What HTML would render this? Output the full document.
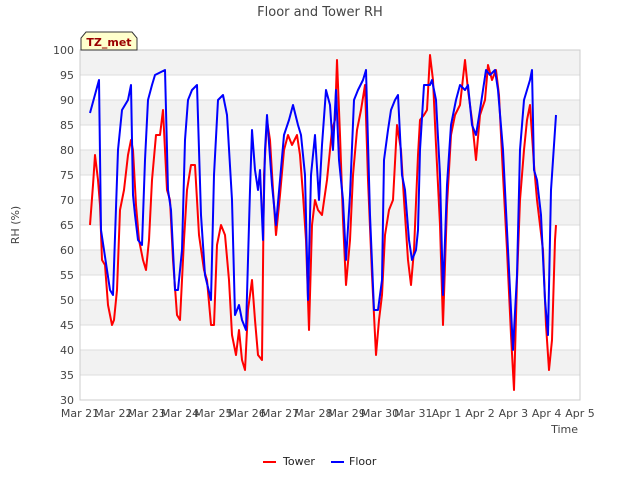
<!DOCTYPE html>
<html><head><meta charset="utf-8"><style>
body{margin:0;background:#fff;font-family:"Liberation Sans","DejaVu Sans",sans-serif;}
svg text{font-family:"DejaVu Sans","Liberation Sans",sans-serif;}
</style></head><body>
<svg id="chart" width="640" height="480" xmlns="http://www.w3.org/2000/svg">
<rect width="640" height="480" fill="#fff"/>
<text x="320" y="16" text-anchor="middle" font-size="13" fill="#444">Floor and Tower RH</text>
<g id="grid"></g>
<g id="series"></g>
<g id="axes"></g>
<text transform="translate(19,225) rotate(-90)" text-anchor="middle" font-size="11" fill="#444">RH (%)</text>
<text x="578" y="433" text-anchor="end" font-size="11" fill="#444">Time</text>
<g>
<path d="M81,50 L81,38 L86,32 L132,32 L137,38 L137,50 Z" fill="#ffffcc" stroke="#333" stroke-width="1"/>
<text x="109" y="46" text-anchor="middle" font-size="11" font-weight="bold" fill="#990000">TZ_met</text>
</g>
<g>
<g><line x1="263" y1="462" x2="276" y2="462" stroke="#ff0000" stroke-width="2"/><text x="283" y="465" font-size="11" fill="#222">Tower</text></g>
<g><line x1="331" y1="462" x2="344" y2="462" stroke="#0000ff" stroke-width="2"/><text x="349" y="465" font-size="11" fill="#222">Floor</text></g>
</g>
</svg>
<script>
const xTickLabels=["Mar 21","Mar 22","Mar 23","Mar 24","Mar 25","Mar 26","Mar 27","Mar 28","Mar 29","Mar 30","Mar 31","Apr 1","Apr 2","Apr 3","Apr 4","Apr 5"];
const yTicks=[30,35,40,45,50,55,60,65,70,75,80,85,90,95,100];
const floorDays=[0.3,0.57,0.63,0.72,0.9,0.99,1.14,1.26,1.44,1.53,1.59,1.65,1.74,1.86,1.95,2.04,2.16,2.25,2.55,2.64,2.73,2.85,2.94,3.06,3.15,3.24,3.36,3.51,3.63,3.75,3.93,4.02,4.14,4.29,4.41,4.56,4.65,4.77,4.86,4.98,5.1,5.16,5.25,5.34,5.4,5.49,5.55,5.61,5.76,5.88,6.0,6.12,6.27,6.39,6.54,6.63,6.75,6.84,6.93,7.05,7.17,7.26,7.38,7.5,7.59,7.68,7.77,7.89,7.98,8.1,8.22,8.34,8.49,8.58,8.7,8.82,8.94,9.06,9.12,9.24,9.33,9.45,9.54,9.66,9.75,9.87,9.96,10.08,10.14,10.2,10.32,10.5,10.56,10.68,10.8,10.89,11.01,11.13,11.28,11.4,11.55,11.64,11.76,11.88,12.0,12.18,12.3,12.45,12.54,12.69,12.84,12.99,13.11,13.2,13.32,13.5,13.56,13.62,13.71,13.83,13.95,14.04,14.13,14.19,14.28];
const floorValues=[87.4,94,64,60,52,51,80,88,90,93,71,67,62,61,78,90,93,95,96,72,68,52,52,60,82,90,92,93,67,55,50,75,90,91,87,70,47,49,46,44,72,84,76,72,76,62,80,87,73,65,74,83,86,89,85,83,75,50,75,83,70,81,92,89,80,92,78,70,58,71,90,92,94,96,67,48,48,54,78,84,88,90,91,75,72,62,58,60,64,80,93,93,94,90,75,51,73,85,90,93,92,93,85,83,88,96,95,96,92,80,60,40,55,80,90,94,96,76,74,67,50,43,72,78,87];
const towerDays=[0.3,0.39,0.45,0.54,0.6,0.66,0.75,0.84,0.96,1.02,1.11,1.2,1.32,1.44,1.53,1.59,1.68,1.77,1.89,1.98,2.07,2.16,2.28,2.4,2.49,2.61,2.7,2.79,2.91,3.0,3.12,3.21,3.33,3.45,3.57,3.72,3.81,3.93,4.02,4.11,4.23,4.35,4.47,4.56,4.68,4.77,4.86,4.95,5.04,5.16,5.25,5.34,5.46,5.52,5.61,5.7,5.79,5.88,6.0,6.12,6.24,6.36,6.51,6.6,6.69,6.78,6.87,6.96,7.05,7.14,7.26,7.41,7.56,7.65,7.71,7.8,7.89,7.98,8.1,8.19,8.31,8.43,8.55,8.64,8.76,8.88,8.97,9.06,9.15,9.27,9.39,9.51,9.63,9.72,9.84,9.93,10.02,10.14,10.2,10.32,10.41,10.5,10.59,10.68,10.8,10.89,11.01,11.13,11.25,11.4,11.55,11.64,11.76,11.88,12.0,12.15,12.24,12.36,12.48,12.57,12.69,12.81,12.93,13.02,13.11,13.2,13.32,13.41,13.5,13.62,13.71,13.89,13.98,14.07,14.16,14.25,14.28];
const towerValues=[65,73,79,74,69,58,57,49,45,46,52,68,72,79,82,80,69,62,58,56,62,74,83,83,88,72,70,58,47,46,62,72,77,77,63,56,54,45,45,61,65,63,54,43,39,44,38,36,48,54,46,39,38,75,86,82,72,63,71,80,83,81,83,79,71,62,44,65,70,68,67,74,84,86,98,83,66,53,62,75,84,88,93,74,55,39,46,51,63,68,70,85,80,70,58,53,60,79,86,87,88,99,94,81,65,45,69,83,87,89,98,92,86,78,87,90,97,94,96,91,75,60,43,32,54,70,80,86,89,77,70,60,45,36,42,62,65,63];
const NS="http://www.w3.org/2000/svg";
const X0=80,X1=580,Y0=400,Y1=50;
function xScale(d){return X0+d*(X1-X0)/15;}
function yScale(v){return Y0-(v-30)*(Y0-Y1)/70;}
const grid=document.getElementById('grid'),axes=document.getElementById('axes'),series=document.getElementById('series');
for(let i=0;i<yTicks.length-1;i++){
  const r=document.createElementNS(NS,'rect');
  
  
  const a=yScale(yTicks[i+1]),b=yScale(yTicks[i]);
  r.setAttribute('x',X0);r.setAttribute('y',a);r.setAttribute('width',X1-X0);r.setAttribute('height',b-a);
  r.setAttribute('fill',i%2===0?'#ffffff':'#f2f2f2');
  grid.appendChild(r);
}
yTicks.forEach(v=>{
  const l=document.createElementNS(NS,'line');
  
  
  l.setAttribute('x1',X0);l.setAttribute('x2',X1);l.setAttribute('y1',yScale(v));l.setAttribute('y2',yScale(v));
  l.setAttribute('stroke','#dddddd');l.setAttribute('stroke-width','1');
  grid.appendChild(l);
  const t=document.createElementNS(NS,'text');
  
  
  t.setAttribute('x',X0-6);t.setAttribute('y',yScale(v)+4);t.setAttribute('text-anchor','end');
  t.setAttribute('font-size','11');t.setAttribute('fill','#444');t.textContent=v;
  axes.appendChild(t);
});
const frame=document.createElementNS(NS,'rect');


frame.setAttribute('x',X0);frame.setAttribute('y',Y1);frame.setAttribute('width',X1-X0);frame.setAttribute('height',Y0-Y1);
frame.setAttribute('fill','none');frame.setAttribute('stroke','#cccccc');
axes.appendChild(frame);
xTickLabels.forEach((s,i)=>{
  const t=document.createElementNS(NS,'text');
  
  
  t.setAttribute('x',xScale(i));t.setAttribute('y',Y0+17);t.setAttribute('text-anchor','middle');
  t.setAttribute('font-size','11');t.setAttribute('fill','#444');t.textContent=s;
  axes.appendChild(t);
});
function drawLine(days,vals,color,name){
  const p=document.createElementNS(NS,'polyline');
  
  
  p.setAttribute('points',days.map((d,i)=>xScale(d).toFixed(1)+','+yScale(vals[i]).toFixed(1)).join(' '));
  p.setAttribute('fill','none');p.setAttribute('stroke',color);p.setAttribute('stroke-width','2');
  p.setAttribute('stroke-linejoin','round');
  series.appendChild(p);
}
drawLine(towerDays,towerValues,'#ff0000','tower-line');
drawLine(floorDays,floorValues,'#0000ff','floor-line');
</script>
</body></html>
